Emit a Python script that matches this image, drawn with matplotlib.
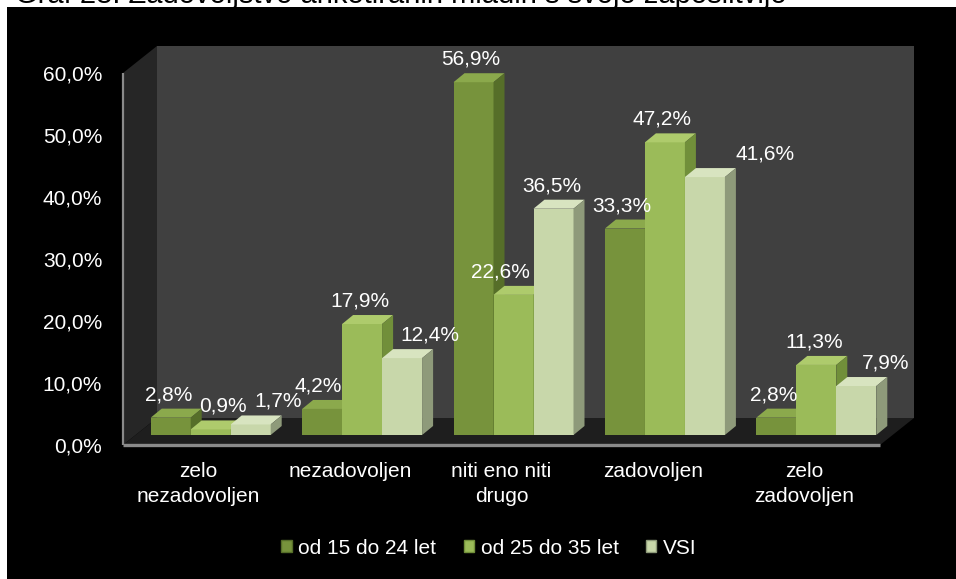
import matplotlib
matplotlib.use("Agg")
import matplotlib.pyplot as plt
from matplotlib.patches import Polygon, Patch
import numpy as np

plt.rcParams['font.family'] = ['Liberation Sans', 'DejaVu Sans']

# ---------------- data ----------------
title = "Graf 28: Zadovoljstvo anketiranih mladih s svojo zaposlitvijo"
categories = ["zelo\nnezadovoljen", "nezadovoljen", "niti eno niti\ndrugo",
              "zadovoljen", "zelo\nzadovoljen"]
series_names = ["od 15 do 24 let", "od 25 do 35 let", "VSI"]
s_15_24 = [2.8, 4.2, 56.9, 33.3, 2.8]
s_25_35 = [0.9, 17.9, 22.6, 47.2, 11.3]
s_vsi = [1.7, 12.4, 36.5, 41.6, 7.9]
series = [s_15_24, s_25_35, s_vsi]
yticks = [0, 10, 20, 30, 40, 50, 60]

# ---------------- style ----------------
W, H, DPI = 956, 579, 100
FS = 15
front_col = ["#77933C", "#9BBB59", "#C8D7AA"]
top_col = ["#8BA94C", "#AECB6C", "#D8E4C0"]
side_col = ["#566E29", "#718F3A", "#8E9A7A"]
# label nudges in pixels (x) for readability, like the original
label_nudge = [[-2, 12, 27], [-4, -2, 28], [-3, -13, -2], [-3, -3, 60], [-3, -2, 29]]

fig = plt.figure(figsize=(W / DPI, H / DPI), dpi=DPI, facecolor="white")
bg = fig.add_axes([7 / W, 0, 1 - 7 / W, 1 - 7 / H], zorder=-5)
bg.set_facecolor("black")
bg.set_xticks([]); bg.set_yticks([])
for s in bg.spines.values():
    s.set_visible(False)
fig.text(15 / W, 1 - 3 / H, title, fontsize=21, color="black", va="baseline", ha="left")

ax_l, ax_r, ax_t, ax_b = 123, 880, 73, 445
ax = fig.add_axes([ax_l / W, (H - ax_b) / H, (ax_r - ax_l) / W, (ax_b - ax_t) / H], zorder=1)
ax.set_facecolor("none")
ax.set_xlim(-0.5, 4.5)
ax.set_ylim(0, 60)
ppx = (ax_r - ax_l) / 5.0      # pixels per category unit
ppy = (ax_b - ax_t) / 60.0     # pixels per percent

def px(dx, dy):
    return dx / ppx, dy / ppy

wdx, wdy = px(34, 27)   # back wall depth
fdx, fdy = px(12, 10)   # bar front offset
bdx, bdy = px(11, 9)    # bar thickness

x0, x1, ytop = -0.5, 4.5, 60
# back wall
ax.add_patch(Polygon([(x0 + wdx, wdy), (x1 + wdx, wdy), (x1 + wdx, ytop + wdy), (x0 + wdx, ytop + wdy)],
                     closed=True, facecolor="#404040", edgecolor="none", zorder=1, clip_on=False))
# side wall
ax.add_patch(Polygon([(x0, 0), (x0 + wdx, wdy), (x0 + wdx, ytop + wdy), (x0, ytop)],
                     closed=True, facecolor="#262626", edgecolor="none", zorder=1, clip_on=False))
# floor
ax.add_patch(Polygon([(x0, 0), (x1, 0), (x1 + wdx, wdy), (x0 + wdx, wdy)],
                     closed=True, facecolor="#1e1e1e", edgecolor="none", zorder=1.5, clip_on=False))
# axis lines
ax.plot([x0, x1], [0, 0], color="#8a8a8a", lw=2.4, zorder=2, clip_on=False, solid_capstyle="butt")
ax.plot([x0, x0], [0, ytop], color="#8a8a8a", lw=1.6, zorder=2, clip_on=False, solid_capstyle="butt")

bw = 40 / ppx
x = np.arange(len(categories))
for j, vals in enumerate(series):
    xc = x + (j - 1) * bw + fdx
    ax.bar(xc, vals, width=bw, bottom=fdy, color=front_col[j], edgecolor="none",
           zorder=3 + j * 0.1, clip_on=False)
    for i, v in enumerate(vals):
        l, r = xc[i] - bw / 2, xc[i] + bw / 2
        b, t = fdy, fdy + v
        ax.add_patch(Polygon([(l, t), (r, t), (r + bdx, t + bdy), (l + bdx, t + bdy)], closed=True,
                             facecolor=top_col[j], edgecolor="none", zorder=3 + j * 0.1, clip_on=False))
        ax.add_patch(Polygon([(r, b), (r + bdx, b + bdy), (r + bdx, t + bdy), (r, t)], closed=True,
                             facecolor=side_col[j], edgecolor="none", zorder=3 + j * 0.1, clip_on=False))
        lx = xc[i] + label_nudge[i][j] / ppx
        ly = t + bdy + 14 / ppy
        ax.text(lx, ly, f"{v:.1f}%".replace(".", ","), color="white", fontsize=FS,
                ha="center", va="center", zorder=6, clip_on=False)

ax.set_yticks(yticks)
ax.set_yticklabels([f"{t:.1f}%".replace(".", ",") for t in yticks])
ax.set_xticks(x)
ax.set_xticklabels(categories, linespacing=1.38)
ax.tick_params(axis="y", length=0, pad=15, labelcolor="white", labelsize=FS)
ax.tick_params(axis="x", length=0, pad=12.5, labelcolor="white", labelsize=FS)
for s in ax.spines.values():
    s.set_visible(False)

handles = [Patch(facecolor=front_col[j], edgecolor=side_col[j], label=series_names[j]) for j in range(3)]
leg = fig.legend(handles=handles, loc="center", bbox_to_anchor=(489 / W, 1 - 548 / H), ncol=3,
                 frameon=False, fontsize=FS, labelcolor="white", handlelength=0.5,
                 handleheight=0.5, handletextpad=0.33, columnspacing=1.3)

fig.savefig("out.png", dpi=DPI, facecolor=fig.get_facecolor())
